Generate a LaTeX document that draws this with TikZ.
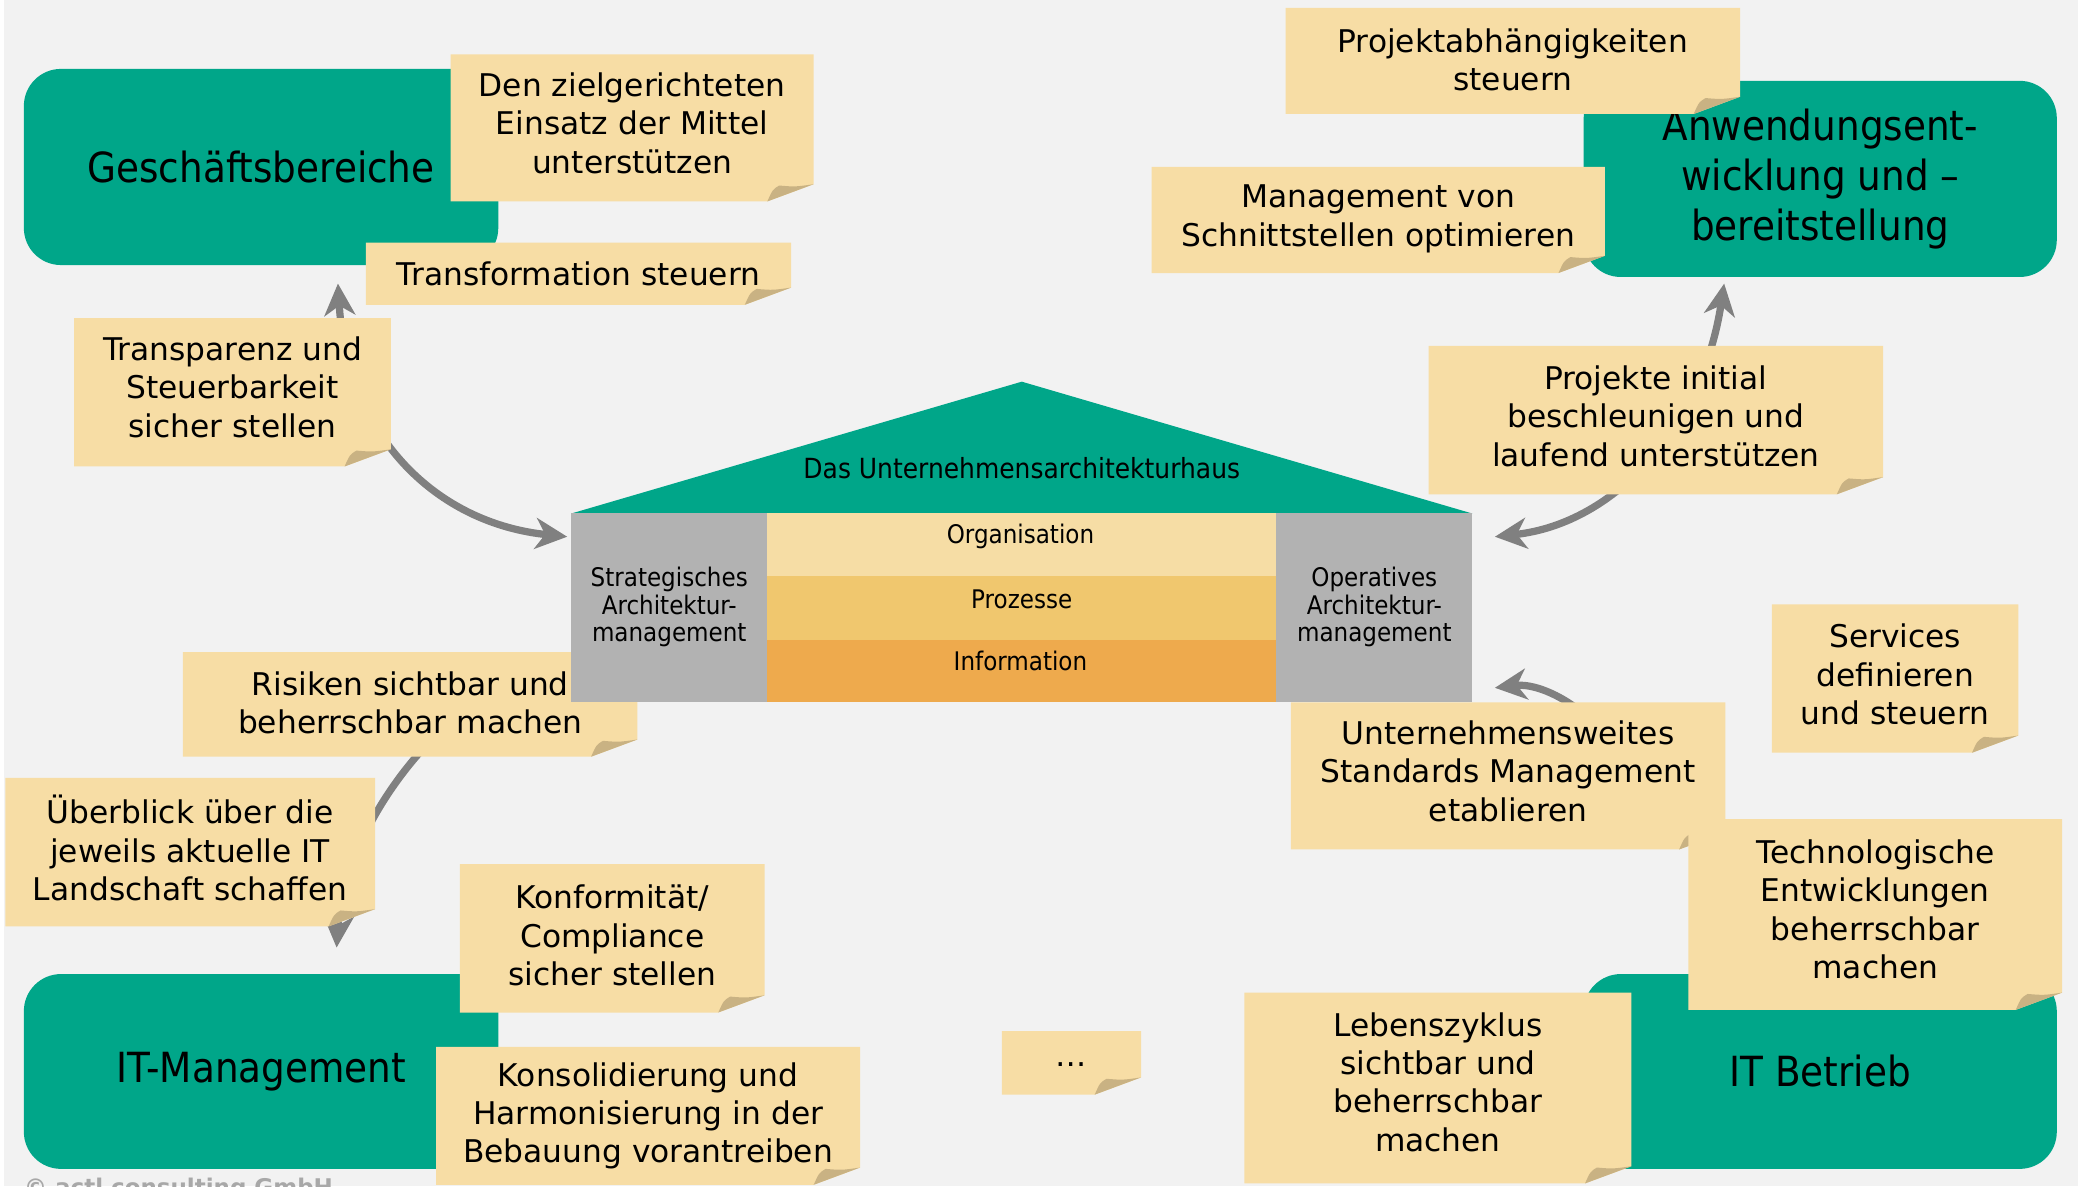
\documentclass[tikz,border=0pt]{standalone}
\usepackage{fontspec}
\setmainfont{DejaVu Sans}
\newfontfamily\condfont[FakeStretch=0.9]{DejaVu Sans}
\usetikzlibrary{arrows.meta}
\definecolor{bgc}{HTML}{F2F2F2}
\definecolor{greenc}{HTML}{00A689}
\definecolor{notec}{HTML}{F7DDA5}
\definecolor{foldc}{HTML}{C9B283}
\definecolor{pillarc}{HTML}{B2B2B2}
\definecolor{orgc}{HTML}{F6DDA5}
\definecolor{prozc}{HTML}{F0C76E}
\definecolor{infoc}{HTML}{EEAA4D}
\definecolor{arrc}{HTML}{808080}
\definecolor{copyc}{HTML}{A8A8A8}
\newcommand\stickynote[7]{% name, xl, yt, xr, yb, text centre y, text
  \fill[notec] (#2,#3) -- (#4,#3) -- (#4,{#5-13}) -- ({#4-35},#5) -- (#2,#5) -- cycle;
  \fill[foldc] ({#4-35},#5) .. controls ({#4-31},{#5-9}) .. ({#4-26},{#5-12}) .. controls ({#4-14},{#5-11}) .. (#4,{#5-13}) -- cycle;
  \node[notetext] (#1) at ({(#2+#4)/2},#6) {#7};
}
\begin{document}
\begin{tikzpicture}[x=0.75pt,y=-0.75pt,
  gbox/.style={fill=greenc, rounded corners=21pt, inner sep=0pt, align=center,
    font=\condfont\fontsize{23.5}{28.5}\selectfont},
  notetext/.style={align=center, inner sep=0pt, font=\fontsize{17.7}{21.75}\selectfont},
  housetext/.style={align=center, inner sep=0pt, font=\condfont\fontsize{14.5}{15.75}\selectfont},
  pillar/.style={fill=pillarc, inner sep=0pt, minimum width=111pt, minimum height=107.25pt},
  band/.style={inner sep=0pt, minimum width=288pt, minimum height=36pt},
  tipstyle/.tip={Stealth[length=18pt,width=17.5pt,inset=5.5pt]},
  arr/.style={draw=arrc, line width=4.1pt, -tipstyle},
  darr/.style={draw=arrc, line width=4.1pt, tipstyle-tipstyle}]
\useasboundingbox (0,0) rectangle (1568,895);
\clip (0,0) rectangle (1568,895);
\fill[bgc] (0,0) rectangle (1568,895);
\fill[white] (0,0) rectangle (3,895);

% green boxes
\node[gbox, minimum width=268.5pt, minimum height=111pt] (gb) at (197,126) {Geschäftsbereiche};
\node[gbox, minimum width=267.75pt, minimum height=111pt] (ae) at (1373.5,135) {Anwendungsent-\\wicklung und –\\bereitstellung};
\node[gbox, minimum width=268.5pt, minimum height=110.25pt] (itm) at (197,808.5) {IT-Management};
\node[gbox, minimum width=267.75pt, minimum height=110.25pt] (itb) at (1373.5,808.5) {IT Betrieb};

% arrows
\coordinate (tlA) at (255,214);
\coordinate (tlB) at (428,405);
\draw[darr] (tlA) .. controls (262,330) and (330,395) .. (tlB);
\coordinate (trA) at (1301,214);
\coordinate (trB) at (1128,405);
\draw[darr] (trA) .. controls (1285,320) and (1220,395) .. (trB);
\coordinate (blA) at (345,540);
\coordinate (blB) at (254,715);
\draw[arr] (blA) .. controls (292,585) and (258,650) .. (blB);
\coordinate (brA) at (1215,560);
\coordinate (brB) at (1128,519);
\draw[arr] (brA) .. controls (1195,532) and (1162,515) .. (brB);

% notes
\stickynote{n1}{340}{41}{614}{152}{93}{Den zielgerichteten\\Einsatz der Mittel\\unterstützen}
\stickynote{n2}{276}{183}{597}{230}{207}{Transformation steuern}
\stickynote{n3}{56}{240}{295}{352}{292}{Transparenz und\\Steuerbarkeit\\sicher stellen}
\stickynote{n4}{970}{6}{1313}{86}{45}{Projektabhängigkeiten\\steuern}
\stickynote{n5}{869}{126}{1211}{206}{165}{Management von\\Schnittstellen optimieren}
\stickynote{n6}{1078}{261}{1421}{373}{314}{Projekte initial\\beschleunigen und\\laufend unterstützen}
\stickynote{n7}{138}{492}{481}{571}{530.5}{Risiken sichtbar und\\beherrschbar machen}
\stickynote{n8}{4}{587}{283}{699}{640}{Überblick über die\\jeweils aktuelle IT\\Landschaft schaffen}
\stickynote{n9}{347}{652}{577}{764}{706}{Konformität/\\Compliance\\sicher stellen}
\stickynote{n10}{329}{790}{649}{894}{842}{Konsolidierung und\\Harmonisierung in der\\Bebauung vorantreiben}
\stickynote{n11}{756}{778}{861}{826}{803}{…}
\stickynote{n12}{939}{749}{1231}{893}{816.5}{Lebenszyklus\\sichtbar und\\beherrschbar\\machen}
\stickynote{n13}{974}{530}{1302}{641}{582}{Unternehmensweites\\Standards Management\\etablieren}
\stickynote{n14}{1337}{456}{1523}{568}{509}{Services\\definieren\\und steuern}
\stickynote{n15}{1274}{618}{1556}{762}{686}{Technologische\\Entwicklungen\\beherrschbar\\machen}

% house
\fill[greenc] (431,387.5) -- (771,288) -- (1111,387.5) -- cycle;
\node[housetext, font=\condfont\fontsize{15.7}{17}\selectfont] (roof) at (771,353) {Das Unternehmensarchitekturhaus};
\node[band, fill=orgc] (org) at (771,411) {};
\node[band, fill=prozc] (proz) at (771,459) {};
\node[band, fill=infoc, minimum height=35.25pt] (info) at (771,506.5) {};
\node[housetext] (orgt) at (770,405) {Organisation};
\node[housetext] (prozt) at (771,452) {Prozesse};
\node[housetext] (infot) at (770,499) {Information};
\node[pillar] (strat) at (505,458.5) {};
\node[housetext] (stratt) at (505,458) {Strategisches\\Architektur-\\management};
\node[pillar] (oper) at (1037,458.5) {};
\node[housetext] (opert) at (1037,458) {Operatives\\Architektur-\\management};

% footer (cut off at bottom, as in the original)
\node[anchor=north west, inner sep=0pt, text=copyc, font=\bfseries\fontsize{13}{15}\selectfont] (copy) at (18,889) {© actl consulting GmbH};
\end{tikzpicture}
\end{document}
